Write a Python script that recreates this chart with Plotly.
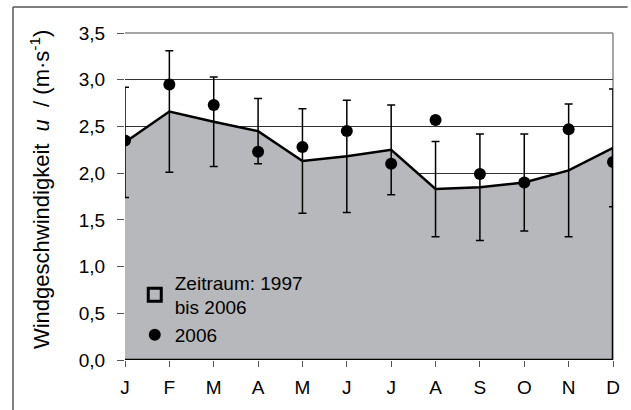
import plotly.graph_objects as go

# Monatsmittel 1997-2006 (Flaeche), Standardabweichung, Werte 2006
months = ["J", "F", "M", "A", "M", "J", "J", "A", "S", "O", "N", "D"]
mean_1997_2006 = [2.33, 2.66, 2.55, 2.45, 2.13, 2.18, 2.25, 1.83, 1.85, 1.90, 2.03, 2.27]
std_1997_2006 = [0.59, 0.65, 0.48, 0.35, 0.56, 0.60, 0.48, 0.51, 0.57, 0.52, 0.71, 0.63]
values_2006 = [2.35, 2.95, 2.73, 2.23, 2.28, 2.45, 2.10, 2.57, 1.99, 1.90, 2.47, 2.12]

x = list(range(len(months)))
FONT = "Liberation Sans, Arial, sans-serif"

fig = go.Figure()

# area: closed polygon so it gets a black outline all round
fig.add_trace(go.Scatter(
    x=x + [x[-1], x[0]], y=mean_1997_2006 + [0, 0],
    mode="lines", fill="toself", fillcolor="#b7b8bc",
    line=dict(color="black", width=2.5),
    showlegend=False, hoverinfo="skip",
))

# error bars of the mean
fig.add_trace(go.Scatter(
    x=x, y=mean_1997_2006, mode="markers",
    marker=dict(size=1, opacity=0),
    error_y=dict(type="data", array=std_1997_2006, color="black", thickness=1.5, width=4),
    showlegend=False, hoverinfo="skip",
))

# legend entry for the area (open square)
fig.add_trace(go.Scatter(
    x=[None], y=[None], mode="markers",
    marker=dict(symbol="square-open", size=13, color="black", line=dict(width=3)),
    name="Zeitraum: 1997<br>bis 2006",
))

fig.add_trace(go.Scatter(
    x=x, y=values_2006, mode="markers",
    marker=dict(color="black", size=12),
    name="2006",
))

fig.update_xaxes(
    range=[0, 11], tickvals=x, ticktext=months,
    ticks="outside", ticklen=6, tickcolor="#555", tickwidth=1,
    showgrid=False, zeroline=False, showline=False,
    tickfont=dict(size=19, color="black", family=FONT),
    ticklabelstandoff=4, automargin=False,
)
fig.update_yaxes(
    range=[0, 3.5], dtick=0.5, tickformat=".1f",
    ticks="outside", ticklen=7, tickcolor="#555", tickwidth=1,
    showgrid=True, gridcolor="#333", gridwidth=1,
    zeroline=False, showline=False,
    tickfont=dict(size=19, color="black", family=FONT),
    ticklabelstandoff=8, automargin=False,
)

fig.update_layout(
    width=631, height=410,
    margin=dict(l=125, r=18, t=33, b=50),
    paper_bgcolor="white", plot_bgcolor="white",
    separators=", ",
    font=dict(family=FONT, color="black"),
    legend=dict(
        x=0.02, y=0.295, xanchor="left", yanchor="top",
        bgcolor="rgba(0,0,0,0)", font=dict(size=19, color="black"),
        itemwidth=30,
    ),
    shapes=[
        # plot area border top / right
        dict(type="line", xref="paper", yref="paper", x0=0, x1=1, y0=1, y1=1,
             line=dict(color="#888", width=1.5), layer="below"),
        dict(type="line", xref="paper", yref="paper", x0=1, x1=1, y0=0, y1=1,
             line=dict(color="#888", width=1.5), layer="below"),
        # outer frame of the figure (top and left edge only visible)
        dict(type="line", xref="paper", yref="paper", x0=-0.2295, x1=1.03, y0=1.0795, y1=1.0795,
             line=dict(color="#555", width=1.5)),
        dict(type="line", xref="paper", yref="paper", x0=-0.2295, x1=-0.2295, y0=-0.16, y1=1.0795,
             line=dict(color="#555", width=1.5)),
    ],
    annotations=[dict(
        text="Windgeschwindigkeit  <i>u</i>  / (m·s<sup>-1</sup>)",
        xref="paper", yref="paper", x=-0.174, y=0.52, textangle=-90,
        xanchor="center", yanchor="middle",
        showarrow=False, font=dict(size=22, color="black", family=FONT),
    )],
)

fig.write_html(
    "out.html", config={"displayModeBar": False},
    post_script="document.body.style.margin='0';"
                "document.body.style.overflow='hidden';"
                "document.documentElement.style.overflow='hidden';",
)
